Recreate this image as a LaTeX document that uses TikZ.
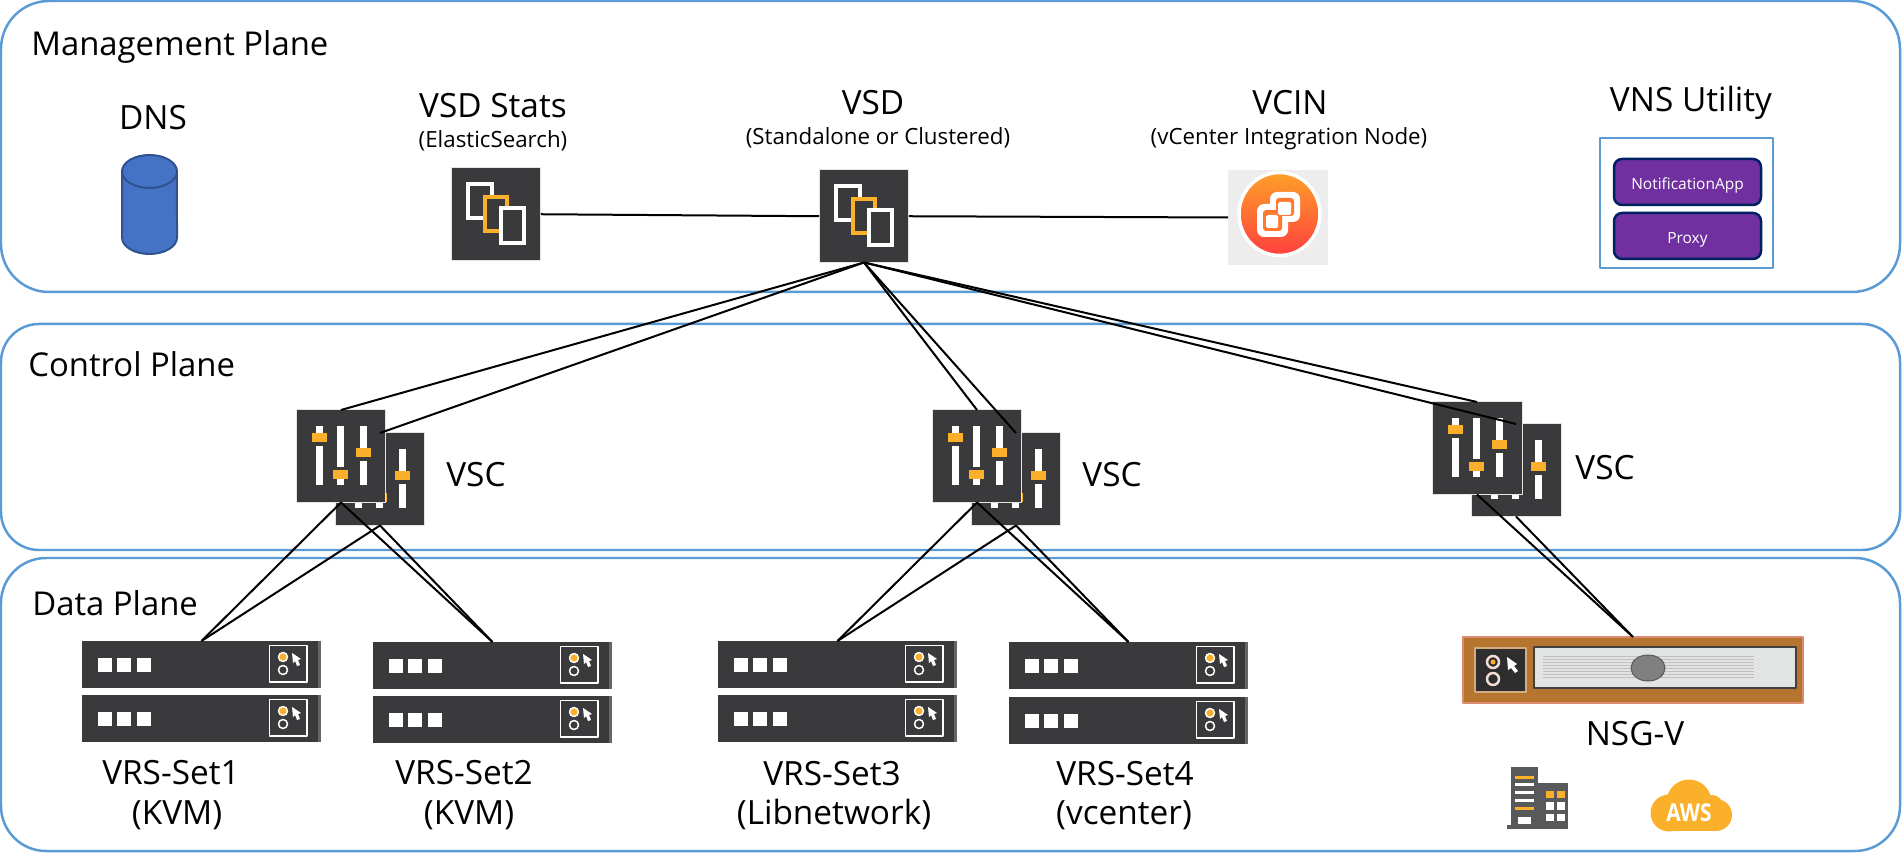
\documentclass[tikz,border=0pt]{standalone}
\usepackage{fontspec}
\setmainfont{Open Sans}
\definecolor{planeBlue}{HTML}{5B9BD5}
\definecolor{iconDark}{HTML}{3A3A3C}
\definecolor{iconEdge}{HTML}{E4E4E4}
\definecolor{iconOrange}{HTML}{FBB02B}
\definecolor{dnsFill}{HTML}{4472C4}
\definecolor{dnsEdge}{HTML}{2F528F}
\definecolor{appFill}{HTML}{7030A0}
\definecolor{appEdge}{HTML}{002060}
\definecolor{nsgBrown}{HTML}{B5752F}
\definecolor{nsgEdge}{HTML}{DC8A70}
\definecolor{nsgPanel}{HTML}{E2E4E3}
\definecolor{buildGray}{HTML}{58595B}
\definecolor{vcinTop}{HTML}{FDA028}
\definecolor{vcinBot}{HTML}{FF3F3F}
\definecolor{vcinMid}{HTML}{FF7A30}
\tikzset{
  plane/.style={draw=planeBlue,line width=0.05cm},
  planelbl/.style={anchor=base,inner sep=0,font=\fontsize{18.7}{20}\selectfont},
  titlelbl/.style={anchor=base,inner sep=0,font=\fontsize{19}{22}\selectfont},
  sublbl/.style={anchor=base,inner sep=0,font=\fontsize{12.7}{15}\selectfont},
  darkbox/.style={anchor=north west,fill=iconDark,draw=iconEdge,line width=0.02cm,outer sep=0,inner sep=0},
  link/.style={draw=black,line width=0.04cm},
  appbox/.style={fill=appFill,draw=appEdge,line width=0.05cm,rounded corners=0.16cm,minimum width=2.94cm,minimum height=0.92cm,
    inner sep=0,outer sep=0,text=white,text height=1.7ex,text depth=0pt,font=\fontsize{8.8}{10}\selectfont},
}
\newcommand{\vsdicon}[3]{
  \node[darkbox,minimum width=1.8cm,minimum height=1.85cm] (#1) at (#2,#3) {};
  \begin{scope}[shift={(#2,#3)},line width=0.08cm,fill=iconDark,line join=miter]
    \filldraw[draw=white] (17,16) rectangle (41,50);
    \filldraw[draw=iconOrange] (34,29) rectangle (56,63);
    \filldraw[draw=white] (50,40) rectangle (73,75);
  \end{scope}
}
\newcommand{\vscicon}[3]{
  \node[darkbox,minimum width=1.8cm,minimum height=1.85cm] (#1) at (#2,#3) {};
  \begin{scope}[shift={(#2,#3)}]
    \foreach \sx/\sy/\gy in {23/28/33,44/65/60,67/43/48}{
      \fill[white] (\sx-3.5,16) rectangle (\sx+3.5,75);
      \fill[iconDark] (\sx-4,\gy-3) rectangle (\sx+4,\gy+3);
      \fill[iconOrange] (\sx-7.5,\sy-4.5) rectangle (\sx+7.5,\sy+4.5);
    }
  \end{scope}
}
\newcommand{\vrsrow}[3]{
  \node[darkbox,draw=none,minimum width=4.78cm,minimum height=0.94cm] (#1) at (#2,#3) {};
  \begin{scope}[shift={(#2,#3)}]
    \fill[black!60] (236,0) rectangle (239,47);
    \foreach \sx in {16,35,55}{
      \fill[white] (\sx,17) rectangle (\sx+14,31);
    }
    \draw[white,line width=0.035cm] (187.5,4.5) rectangle (225,41);
    \filldraw[draw=white,fill=iconOrange,line width=0.03cm] (201,16) circle (4.5);
    \draw[white,line width=0.03cm] (201,29) circle (4.5);
    \fill[white] (210,12)--(219,18)--(216,19)--(218,24)--(215,25)--(213,20)--(211,22)--cycle;
  \end{scope}
}
\begin{document}
\begin{tikzpicture}[x=0.02cm,y=-0.02cm,line join=round]
\useasboundingbox (0,0) rectangle (1902,857);
\draw[plane,rounded corners=0.96cm] (1,1) rectangle (1900,292);
\draw[plane,rounded corners=0.76cm] (1,324) rectangle (1900,550);
\draw[plane,rounded corners=0.9cm] (1,558) rectangle (1900,851);

\node[planelbl,anchor=base west] (mgmtlbl) at (31,56) {Management Plane};
\node[planelbl,anchor=base west] (ctrllbl) at (28,377) {Control Plane};
\node[planelbl,anchor=base west] (datalbl) at (32,615) {Data Plane};

\node[titlelbl] (dnslbl) at (153,130) {DNS};
\filldraw[fill=dnsFill,draw=dnsEdge,line width=0.04cm] (122,171.5) arc[start angle=180,end angle=0,x radius=0.55cm,y radius=0.33cm]
  -- (177,237.5) arc[start angle=0,end angle=-180,x radius=0.55cm,y radius=0.33cm] -- cycle;
\draw[dnsEdge,line width=0.04cm] (122,171.5) arc[start angle=180,end angle=360,x radius=0.55cm,y radius=0.33cm];

\node[titlelbl] (statslbl) at (493,118) {VSD Stats};
\node[sublbl] (statssub) at (493,148) {(ElasticSearch)};
\vsdicon{stats}{451}{168}

\node[titlelbl] (vsdlbl) at (873,115) {VSD};
\node[sublbl] (vsdsub) at (878,145) {(Standalone or Clustered)};
\vsdicon{vsd}{819}{170}

\node[titlelbl] (vcinlbl) at (1290,115) {VCIN};
\node[sublbl] (vcinsub) at (1289,145) {(vCenter Integration Node)};
\node[anchor=north west,fill=black!7,minimum width=2cm,minimum height=1.9cm,inner sep=0,outer sep=0] (vcin) at (1228,170) {};
\shade[top color=vcinTop,bottom color=vcinBot,draw=white,line width=0.07cm] (1279.5,214) ellipse (40.5 and 41.5);
\fill[white,rounded corners=0.14cm] (1270,192) rectangle (1300,222);
\fill[white,rounded corners=0.14cm] (1257,204) rectangle (1288,237);
\fill[vcinMid,rounded corners=0.06cm] (1276,198) rectangle (1294,216);
\fill[vcinMid,rounded corners=0.06cm] (1263,210) rectangle (1282,231);
\fill[vcinMid] (1276,210) rectangle (1282,216);
\fill[white,rounded corners=0.03cm] (1278,202) rectangle (1291,215);
\fill[white,rounded corners=0.03cm] (1266,215) rectangle (1278,228);

\node[titlelbl] (vnslbl) at (1691,112) {VNS Utility};
\draw[planeBlue,line width=0.05cm] (1600,138) rectangle (1773,268);
\node[appbox] (notif) at (1687.5,182) {NotificationApp};
\node[appbox] (proxy) at (1687.5,236) {Proxy};

\vscicon{vscAb}{335}{433}
\vscicon{vscA}{296}{410}
\node[titlelbl] (vscAlbl) at (476,487) {VSC};
\vscicon{vscBb}{971}{433}
\vscicon{vscB}{932}{410}
\node[titlelbl] (vscBlbl) at (1112,487) {VSC};
\vscicon{vscCb}{1471}{424}
\vscicon{vscC}{1432}{402}
\node[titlelbl] (vscClbl) at (1605,480) {VSC};

\vrsrow{vrsA}{82}{641}
\vrsrow{vrsAb}{82}{695}
\vrsrow{vrsB}{373}{642}
\vrsrow{vrsBb}{373}{696}
\vrsrow{vrsC}{718}{641}
\vrsrow{vrsCb}{718}{695}
\vrsrow{vrsD}{1009}{642}
\vrsrow{vrsDb}{1009}{697}

\node[titlelbl] (vrsAlbl) at (171,784) {VRS-Set1};
\node[titlelbl] (vrsAsub) at (177,824) {(KVM)};
\node[titlelbl] (vrsBlbl) at (464,784) {VRS-Set2};
\node[titlelbl] (vrsBsub) at (469,824) {(KVM)};
\node[titlelbl] (vrsClbl) at (832,785) {VRS-Set3};
\node[titlelbl] (vrsCsub) at (834,824) {(Libnetwork)};
\node[titlelbl] (vrsDlbl) at (1125,785) {VRS-Set4};
\node[titlelbl] (vrsDsub) at (1124,824) {(vcenter)};

\node[anchor=north west,fill=nsgBrown,draw=nsgEdge,line width=0.03cm,minimum width=6.8cm,minimum height=1.32cm,inner sep=0,outer sep=0] (nsg) at (1463,637) {};
\filldraw[fill=black!82,draw=nsgBrown!60!white,line width=0.03cm] (1475,648) rectangle (1526,692);
\draw[nsgEdge!30!white,line width=0.05cm] (1493,662) circle (6);
\fill[iconOrange] (1493,662) circle (2.5);
\draw[nsgEdge!30!white,line width=0.05cm] (1493,679) circle (6);
\fill[white] (1507,657)--(1517,664)--(1514,666)--(1518,671)--(1515,673)--(1511,668)--(1508,670)--cycle;
\filldraw[fill=nsgPanel,draw=black!75,line width=0.04cm] (1534,647) rectangle (1796,688);
\foreach \ly in {656,659,662,665,668,671,674,677}{
  \draw[gray!50,line width=0.02cm] (1543,\ly)--(1754,\ly);
}
\filldraw[fill=gray,draw=gray!70!black,line width=0.02cm] (1648,668) ellipse (17 and 13);
\node[titlelbl] (nsglbl) at (1635,745) {NSG-V};

\fill[buildGray] (1511,767) rectangle (1538,825);
\fill[buildGray] (1538,783) rectangle (1568,829);
\fill[buildGray] (1507,825) rectangle (1538,829);
\foreach \by/\bc in {777/iconOrange,784/white,792/white,800/white,808/iconOrange}{
  \fill[\bc] (1515,\by-1.5) rectangle (1534,\by+1.5);
}
\fill[white] (1518,817) rectangle (1531,824);
\foreach \wx in {1546,1557}{
  \fill[iconOrange] (\wx,791) rectangle (\wx+8,798);
  \fill[white] (\wx,802) rectangle (\wx+8,810);
  \fill[white] (\wx,814) rectangle (\wx+8,821);
}

\foreach \cx/\cy/\cr in {1669/813/18.5,1689/802/22.5,1712/806/11,1716/815/16}{
  \fill[iconOrange] (\cx,\cy) circle (\cr);
}
\fill[iconOrange] (1668,815) rectangle (1716,831);
\node[inner sep=0,text=white,font=\fontsize{14}{16}\selectfont\bfseries] (aws) at (1689,813) {\scalebox{0.85}[1]{AWS}};

\draw[link] (stats.east)--(vsd.west);
\draw[link] (vsd.east)--(vcin.west);
\foreach \vt in {vscA,vscAb,vscB,vscBb,vscC,vscCb}{
  \draw[link] (vsd.south)--(\vt.north);
}
\foreach \vt in {vscA,vscAb}{
  \draw[link] (\vt.south)--(vrsA.north);
  \draw[link] (\vt.south)--(vrsB.north);
}
\foreach \vt in {vscB,vscBb}{
  \draw[link] (\vt.south)--(vrsC.north);
  \draw[link] (\vt.south)--(vrsD.north);
}
\foreach \vt in {vscC,vscCb}{
  \draw[link] (\vt.south)--(nsg.north);
}
\end{tikzpicture}
\end{document}
